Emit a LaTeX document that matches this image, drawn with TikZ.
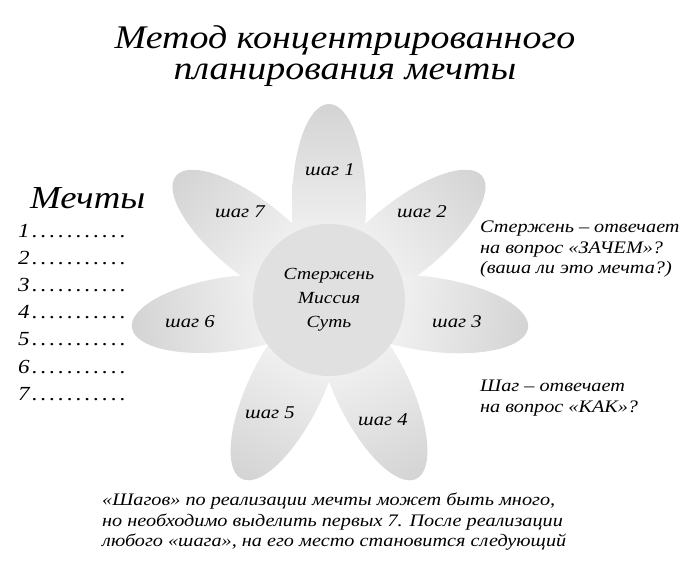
\documentclass[tikz,border=0pt]{standalone}
\usepackage{fontspec}
\setmainfont{Liberation Serif}[FakeStretch=1.15]
\usetikzlibrary{positioning,shapes,calc}
\tikzset{
  petal/.style={left color=white, middle color=black!11, right color=black!17},
  core/.style={circle, minimum size=152pt, inner sep=0pt, fill=black!12, align=center,
    font=\itshape\fontsize{17}{24}\selectfont},
  steplabel/.style={inner sep=0pt, font=\itshape\fontsize{18}{20}\selectfont},
  titletext/.style={align=center, inner sep=0pt, font=\itshape\fontsize{33}{31}\selectfont},
  dreamhead/.style={inner sep=0pt, font=\itshape\fontsize{32}{32}\selectfont},
  dreamline/.style={inner sep=0pt, font=\itshape\fontsize{20}{22}\selectfont},
  note/.style={align=left, inner sep=0pt, font=\itshape\fontsize{17.6}{20.5}\selectfont}
}
\begin{document}
\begin{tikzpicture}[x=1pt,y=1pt]
   \useasboundingbox (0,0) rectangle (685,-565);
   \coordinate (mid) at (329,-300);
   \foreach \ang/\len in {90/96,39/97,-8/101,-64/99,-116/99,-172/99,141/97}
      \shade[petal, transform canvas={rotate around={\ang:(mid)}}] ($(mid)+(\len,0)$) ellipse (100pt and 37pt);
   \node[core] (core) at (mid) {Стержень\\Миссия\\Суть};
   \foreach \n/\x/\y in {1/330/170, 2/422/212, 3/457/322, 4/383/420, 5/270/413, 6/190/322, 7/240/212}
      \node[steplabel] (step\n) at (\x,-\y) {шаг \n};
   \node[titletext] (title) at (345,-56) {Метод концентрированного\\планирования мечты};
   \node[dreamhead, anchor=base west] (dreams) at (30,-208) {Мечты};
   \foreach \n in {1,...,7}
      \node[dreamline, anchor=base west] (dream\n) at (18,{-237-27.2*(\n-1)}) {\makebox[110pt][l]{\n\dotfill}};
   \node[note, anchor=north west] (whynote) at (480,-221) {Стержень – отвечает\\на вопрос «ЗАЧЕМ»?\\(ваша ли это мечта?)};
   \node[note, anchor=north west] (hownote) at (480,-380) {Шаг – отвечает\\на вопрос «КАК»?};
   \node[note, anchor=north west] (footnote) at (102,-493) {«Шагов» по реализации мечты может быть много,\\но необходимо выделить первых 7. После реализации\\любого «шага», на его место становится следующий};
\end{tikzpicture}
\end{document}
